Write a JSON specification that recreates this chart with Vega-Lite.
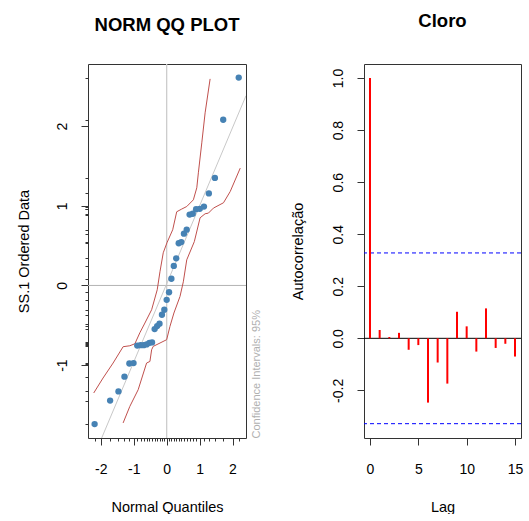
{
  "$schema": "https://vega.github.io/schema/vega-lite/v6.json",
  "padding": {"left": 15, "top": 11, "right": 0, "bottom": 0},
  "background": "white",
  "config": {
    "font": "Liberation Sans",
    "view": {"stroke": "#333333", "strokeWidth": 1},
    "axis": {"grid": false, "domain": false, "tickColor": "#333333", "tickWidth": 1, "labelColor": "#000000", "titleColor": "#000000", "labelFontSize": 14, "titleFontSize": 14.5, "titleFontWeight": "normal", "labelFont": "Liberation Sans", "titleFont": "Liberation Sans", "labelOverlap": false},
    "title": {"font": "Liberation Sans", "fontSize": 18.5, "fontWeight": "bold", "color": "#000000"}
  },
  "datasets": {
    "qq": [
      {"x": -2.189, "y": -1.74}, {"x": -1.718, "y": -1.445}, {"x": -1.465, "y": -1.33}, {"x": -1.282, "y": -1.145},
      {"x": -1.133, "y": -0.98}, {"x": -1.006, "y": -0.975}, {"x": -0.894, "y": -0.755}, {"x": -0.792, "y": -0.75},
      {"x": -0.697, "y": -0.75}, {"x": -0.608, "y": -0.74}, {"x": -0.524, "y": -0.72}, {"x": -0.444, "y": -0.715},
      {"x": -0.366, "y": -0.548}, {"x": -0.290, "y": -0.51}, {"x": -0.217, "y": -0.48}, {"x": -0.144, "y": -0.368},
      {"x": -0.072, "y": -0.305}, {"x": 0.0, "y": -0.18}, {"x": 0.072, "y": -0.085}, {"x": 0.144, "y": 0.084},
      {"x": 0.217, "y": 0.245}, {"x": 0.290, "y": 0.34}, {"x": 0.366, "y": 0.53}, {"x": 0.444, "y": 0.545},
      {"x": 0.524, "y": 0.65}, {"x": 0.608, "y": 0.70}, {"x": 0.697, "y": 0.89}, {"x": 0.792, "y": 0.90},
      {"x": 0.894, "y": 0.958}, {"x": 1.006, "y": 0.962}, {"x": 1.133, "y": 0.99}, {"x": 1.282, "y": 1.155},
      {"x": 1.465, "y": 1.35}, {"x": 1.718, "y": 2.08}, {"x": 2.189, "y": 2.61}
    ],
    "env": [
      {"band": "upper", "x": -2.216, "y": -1.35}, {"band": "upper", "x": -1.933, "y": -1.162}, {"band": "upper", "x": -1.628, "y": -0.974},
      {"band": "upper", "x": -1.323, "y": -0.769}, {"band": "upper", "x": -1.119, "y": -0.757}, {"band": "upper", "x": -0.966, "y": -0.732},
      {"band": "upper", "x": -0.814, "y": -0.593}, {"band": "upper", "x": -0.662, "y": -0.472}, {"band": "upper", "x": -0.457, "y": -0.305},
      {"band": "upper", "x": -0.287, "y": -0.054}, {"band": "upper", "x": -0.204, "y": 0.172}, {"band": "upper", "x": -0.104, "y": 0.41},
      {"band": "upper", "x": 0.009, "y": 0.536}, {"band": "upper", "x": 0.183, "y": 0.699}, {"band": "upper", "x": 0.305, "y": 0.925},
      {"band": "upper", "x": 0.457, "y": 0.959}, {"band": "upper", "x": 0.61, "y": 0.991}, {"band": "upper", "x": 0.811, "y": 1.075},
      {"band": "upper", "x": 0.915, "y": 1.226}, {"band": "upper", "x": 0.963, "y": 1.414}, {"band": "upper", "x": 1.067, "y": 1.79},
      {"band": "upper", "x": 1.168, "y": 2.167}, {"band": "upper", "x": 1.32, "y": 2.593},
      {"band": "lower", "x": -1.323, "y": -1.726}, {"band": "lower", "x": -1.119, "y": -1.518}, {"band": "lower", "x": -0.866, "y": -1.309},
      {"band": "lower", "x": -0.61, "y": -0.974}, {"band": "lower", "x": -0.509, "y": -0.954}, {"band": "lower", "x": -0.457, "y": -0.807},
      {"band": "lower", "x": -0.409, "y": -0.765}, {"band": "lower", "x": 0.0, "y": -0.681}, {"band": "lower", "x": 0.1, "y": -0.514},
      {"band": "lower", "x": 0.22, "y": -0.346}, {"band": "lower", "x": 0.405, "y": -0.138}, {"band": "lower", "x": 0.506, "y": 0.046},
      {"band": "lower", "x": 0.61, "y": 0.322}, {"band": "lower", "x": 0.84, "y": 0.55}, {"band": "lower", "x": 1.015, "y": 0.849},
      {"band": "lower", "x": 1.168, "y": 0.9}, {"band": "lower", "x": 1.268, "y": 0.908}, {"band": "lower", "x": 1.42, "y": 0.971},
      {"band": "lower", "x": 1.726, "y": 1.038}, {"band": "lower", "x": 1.93, "y": 1.179}, {"band": "lower", "x": 2.235, "y": 1.473}
    ],
    "refline": [{"x": -2.39, "y": -2.322}, {"x": 2.41, "y": 2.382}],
    "vline": [{"x": 0, "y": -1.915}, {"x": 0, "y": 2.78}],
    "hline": [{"x": -2.39, "y": 0}, {"x": 2.41, "y": 0}],
    "acf": [
      {"lag": 0, "acf": 1.0}, {"lag": 1, "acf": 0.032}, {"lag": 2, "acf": 0.005}, {"lag": 3, "acf": 0.021},
      {"lag": 4, "acf": -0.044}, {"lag": 5, "acf": -0.026}, {"lag": 6, "acf": -0.247}, {"lag": 7, "acf": -0.093},
      {"lag": 8, "acf": -0.174}, {"lag": 9, "acf": 0.102}, {"lag": 10, "acf": 0.046}, {"lag": 11, "acf": -0.051},
      {"lag": 12, "acf": 0.115}, {"lag": 13, "acf": -0.037}, {"lag": 14, "acf": -0.021}, {"lag": 15, "acf": -0.070}
    ],
    "clim": [{"acf": 0.328}, {"acf": -0.328}]
  },
  "spacing": 118,
  "bounds": "flush",
  "hconcat": [
    {
      "width": 158,
      "height": 374,
      "title": {"text": "NORM QQ PLOT", "offset": 27},
      "layer": [
        {
          "encoding": {
            "x": {
              "field": "x", "type": "quantitative",
              "scale": {"domain": [-2.39, 2.41], "nice": false, "zero": false},
              "axis": {
                "title": "Normal Quantiles",
                "values": [-2, -1, 0, 1, 2, -2.189, -1.718, -1.465, -1.282, -1.133, -1.006, -0.894, -0.792, -0.697, -0.608, -0.524, -0.444, -0.366, -0.290, -0.217, -0.144, -0.072, 0.072, 0.144, 0.217, 0.290, 0.366, 0.444, 0.524, 0.608, 0.697, 0.792, 0.894, 1.006, 1.133, 1.282, 1.465, 1.718, 2.189],
                "labelExpr": "abs(datum.value - round(datum.value)) < 0.000001 ? replace(format(datum.value, 'd'), '−', '-') : ''",
                "tickSize": {"condition": {"test": "abs(datum.value - round(datum.value)) < 0.000001", "value": 7}, "value": 3},
                "labelOverlap": false, "labelFlush": false, "labelBaseline": "alphabetic", "labelPadding": 28,
                "titleBaseline": "top", "titlePadding": 24
              }
            },
            "y": {
              "field": "y", "type": "quantitative",
              "scale": {"domain": [-1.915, 2.78], "nice": false, "zero": false},
              "axis": {
                "title": "SS.1 Ordered Data",
                "values": [-1, 0, 1, 2, -1.74, -1.445, -1.33, -1.145, -0.98, -0.975, -0.755, -0.75, -0.74, -0.72, -0.715, -0.548, -0.51, -0.48, -0.368, -0.305, -0.18, -0.085, 0.084, 0.245, 0.34, 0.53, 0.545, 0.65, 0.70, 0.89, 0.90, 0.958, 0.962, 0.99, 1.155, 1.35, 2.08, 2.61],
                "labelExpr": "abs(datum.value - round(datum.value)) < 0.000001 ? replace(format(datum.value, 'd'), '−', '-') : ''",
                "tickSize": {"condition": {"test": "abs(datum.value - round(datum.value)) < 0.000001", "value": 7}, "value": 3},
                "labelOverlap": false, "labelFlush": false, "labelAngle": -90, "labelAlign": "center", "labelBaseline": "alphabetic", "labelPadding": 15,
                "titleBaseline": "alphabetic", "titlePadding": 27
              }
            }
          },
          "layer": [
            {"data": {"name": "vline"}, "mark": {"type": "line", "color": "#cccccc", "strokeWidth": 1.3}},
            {"data": {"name": "hline"}, "mark": {"type": "line", "color": "#b3b3b3", "strokeWidth": 1}},
            {"data": {"name": "refline"}, "mark": {"type": "line", "color": "#c8c8c8", "strokeWidth": 1, "clip": true}},
            {
              "data": {"name": "env"},
              "mark": {"type": "line", "color": "#c0504d", "strokeWidth": 1, "clip": true},
              "encoding": {"detail": {"field": "band"}}
            },
            {"data": {"name": "qq"}, "mark": {"type": "circle", "color": "#4682b4", "opacity": 1, "size": 40}}
          ]
        },
        {
          "data": {"values": [{"ci": 0}]},
          "mark": {"type": "rule", "opacity": 0},
          "encoding": {
            "y": {
              "field": "ci", "type": "quantitative", "scale": {"domain": [0, 1]},
              "axis": {"orient": "right", "title": "Confidence Intervals: 95%", "labels": false, "ticks": false, "domain": false, "grid": false, "titleColor": "#b0b0b0", "titleFontSize": 11, "titleAngle": 270, "titleAnchor": "start", "titleBaseline": "middle", "titlePadding": 10}
            }
          }
        }
      ],
      "resolve": {"scale": {"y": "independent"}}
    },
    {
      "width": 157,
      "height": 374,
      "title": {"text": "Cloro", "offset": 34},
      "layer": [
        {
          "data": {"values": [{"acf": 0}]},
          "mark": {"type": "rule", "color": "#000000", "strokeWidth": 1},
          "encoding": {"y": {"field": "acf", "type": "quantitative"}}
        },
        {
          "data": {"name": "clim"},
          "mark": {"type": "rule", "color": "#0000ff", "strokeWidth": 1, "strokeDash": [4, 3]},
          "encoding": {"y": {"field": "acf", "type": "quantitative"}}
        },
        {
          "data": {"name": "acf"},
          "mark": {"type": "rule", "color": "#ff0000", "strokeWidth": 2},
          "encoding": {
            "x": {
              "field": "lag", "type": "quantitative",
              "scale": {"domain": [-0.62, 15.62], "nice": false, "zero": false},
              "axis": {"title": "Lag", "values": [0, 5, 10, 15], "tickSize": 7, "labelBaseline": "alphabetic", "labelPadding": 28, "labelFlush": false, "titleBaseline": "top", "titlePadding": 24}
            },
            "y": {
              "field": "acf", "type": "quantitative",
              "scale": {"domain": [-0.383, 1.054], "nice": false, "zero": false},
              "axis": {"title": "Autocorrelação", "values": [-0.2, 0, 0.2, 0.4, 0.6, 0.8, 1.0], "labelExpr": "replace(format(datum.value, '.1f'), '−', '-')", "tickSize": 7, "labelAngle": -90, "labelAlign": "center", "labelBaseline": "alphabetic", "labelPadding": 15, "labelFlush": false, "labelOverlap": false, "titleBaseline": "alphabetic", "titlePadding": 29}
            },
            "y2": {"datum": 0}
          }
        }
      ]
    }
  ]
}
